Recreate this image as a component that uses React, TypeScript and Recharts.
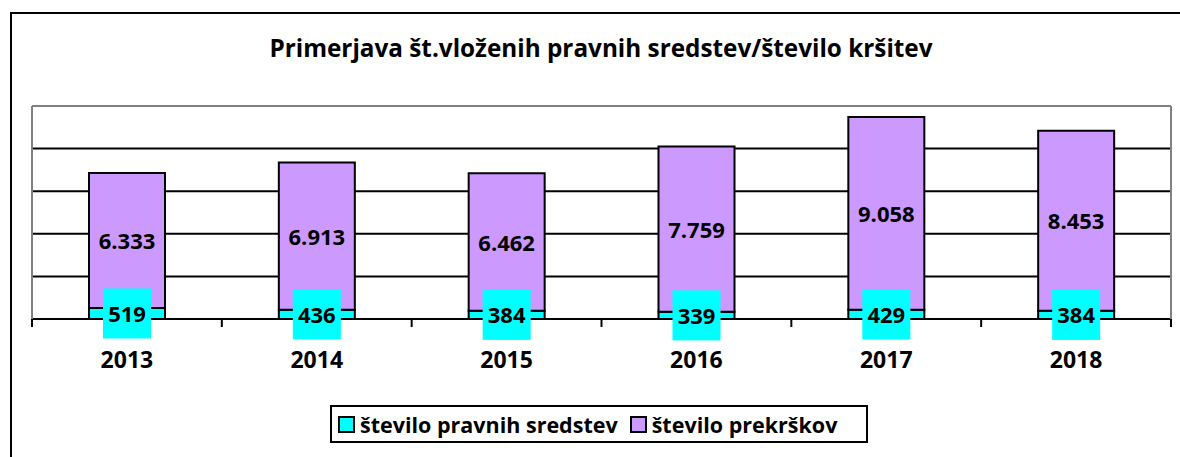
import { BarChart, Bar, XAxis, YAxis, CartesianGrid, Legend, LabelList, ReferenceLine } from "recharts";

const years = ["2013", "2014", "2015", "2016", "2017", "2018"];
const pravnaSredstva = [519, 436, 384, 339, 429, 384];
const prekrski = [6333, 6913, 6462, 7759, 9058, 8453];
const yTicks = [0, 2000, 4000, 6000, 8000, 10000];

const data = years.map((year, i) => ({
  year,
  sredstva: pravnaSredstva[i],
  prekrski: prekrski[i],
}));

const FONT = "'Open Sans', Lato, 'DejaVu Sans', sans-serif";
const CYAN = "#00FFFF";
const PURPLE = "#CC99FF";

// 6333 -> "6.333"
const fmt = (v: number) => String(v).replace(/\B(?=(\d{3})+(?!\d))/g, ".");

// y axis has no visible labels, but the grid needs a truthy tick
const NoTick = () => <g />;

function YearTick(props: any) {
  const { x, y, payload, index } = props;
  const half = payload.offset || 95;
  return (
    <g>
      <line x1={x - half} x2={x - half} y1={y} y2={y + 8} stroke="#000" strokeWidth={2} />
      {index === years.length - 1 && (
        <line x1={x + half} x2={x + half} y1={y} y2={y + 8} stroke="#000" strokeWidth={2} />
      )}
      <text x={x} y={y + 49} textAnchor="middle" fontFamily={FONT} fontWeight={700} fontSize={23} fill="#000">
        {payload.value}
      </text>
    </g>
  );
}

// drawn on the top series so the cyan boxes sit above both bars
function SredstvaLabel(props: any) {
  const { x, y, width, height, index } = props;
  const v = pravnaSredstva[index];
  const segH = (v / prekrski[index]) * height;
  const cx = x + width / 2;
  const cy = y + height + segH / 2;
  return (
    <g>
      <rect x={cx - 24} y={cy - 25} width={48} height={50} fill={CYAN} />
      <text x={cx} y={cy + 8.5} textAnchor="middle" fontFamily={FONT} fontWeight={700} fontSize={22} fill="#000">
        {fmt(v)}
      </text>
    </g>
  );
}

function PrekrskiLabel(props: any) {
  const { x, y, width, height, value } = props;
  return (
    <text x={x + width / 2} y={y + height / 2 + 8.5} textAnchor="middle" fontFamily={FONT} fontWeight={700} fontSize={22} fill="#000">
      {fmt(value)}
    </text>
  );
}

function LegendBox() {
  const items = [
    { label: "število pravnih sredstev", color: CYAN },
    { label: "število prekrškov", color: PURPLE },
  ];
  return (
    <div
      style={{
        border: "2px solid #000",
        background: "#fff",
        display: "flex",
        alignItems: "center",
        boxSizing: "border-box",
        width: 538,
        height: 38,
        padding: "0 0 0 6px",
        fontFamily: FONT,
        fontWeight: 700,
        fontSize: 21.5,
        color: "#000",
        whiteSpace: "nowrap",
      }}
    >
      {items.map((it, i) => (
        <span key={i} style={{ display: "flex", alignItems: "center", marginRight: i === 0 ? 12 : 0 }}>
          <span style={{ width: 13, height: 13, background: it.color, border: "2px solid #000", marginRight: 5 }} />
          {it.label}
        </span>
      ))}
    </div>
  );
}

export default function App() {
  return (
    <div style={{ position: "absolute", left: 0, top: 0, width: 1180, height: 457, overflow: "hidden", background: "#fff" }}>
      <div style={{ position: "absolute", left: 10, top: 12, width: 1300, height: 600, border: "2px solid #000" }} />
      <div
        style={{
          position: "absolute",
          left: 0,
          width: 1202,
          top: 31,
          textAlign: "center",
          fontFamily: FONT,
          fontWeight: 700,
          fontSize: 24.3,
          color: "#000",
          whiteSpace: "nowrap",
        }}
      >
        Primerjava št.vloženih pravnih sredstev/število kršitev
      </div>
      <div style={{ position: "absolute", left: 0, top: 0 }}>
        <BarChart width={1180} height={457} data={data} margin={{ top: 106, right: 8, left: 31, bottom: 98 }}>
          <CartesianGrid yAxisId="l" vertical={false} stroke="#000" strokeWidth={2} />
          <XAxis
            dataKey="year"
            height={40}
            axisLine={{ stroke: "#000", strokeWidth: 2 }}
            tickLine={false}
            tickSize={0}
            tickMargin={0}
            tick={<YearTick />}
            interval={0}
          />
          <YAxis yAxisId="l" width={1} domain={[0, 10000]} ticks={yTicks} tick={<NoTick />} tickLine={false} axisLine={{ stroke: "#808080", strokeWidth: 2 }} />
          <YAxis yAxisId="r" orientation="right" width={1} domain={[0, 10000]} ticks={yTicks} tick={<NoTick />} tickLine={false} axisLine={{ stroke: "#808080", strokeWidth: 2 }} />
          <ReferenceLine yAxisId="l" y={10000} stroke="#808080" strokeWidth={2} />
          <Bar yAxisId="l" dataKey="sredstva" stackId="a" fill={CYAN} stroke="#000" strokeWidth={2} barSize={76} isAnimationActive={false} />
          <Bar yAxisId="l" dataKey="prekrski" stackId="a" fill={PURPLE} stroke="#000" strokeWidth={2} barSize={76} isAnimationActive={false}>
            <LabelList dataKey="prekrski" content={<PrekrskiLabel />} />
            <LabelList dataKey="sredstva" content={<SredstvaLabel />} />
          </Bar>
          <Legend
            verticalAlign="middle"
            content={<LegendBox />}
            wrapperStyle={{ left: 330, top: 405, width: "auto", height: "auto" }}
          />
        </BarChart>
      </div>
    </div>
  );
}
